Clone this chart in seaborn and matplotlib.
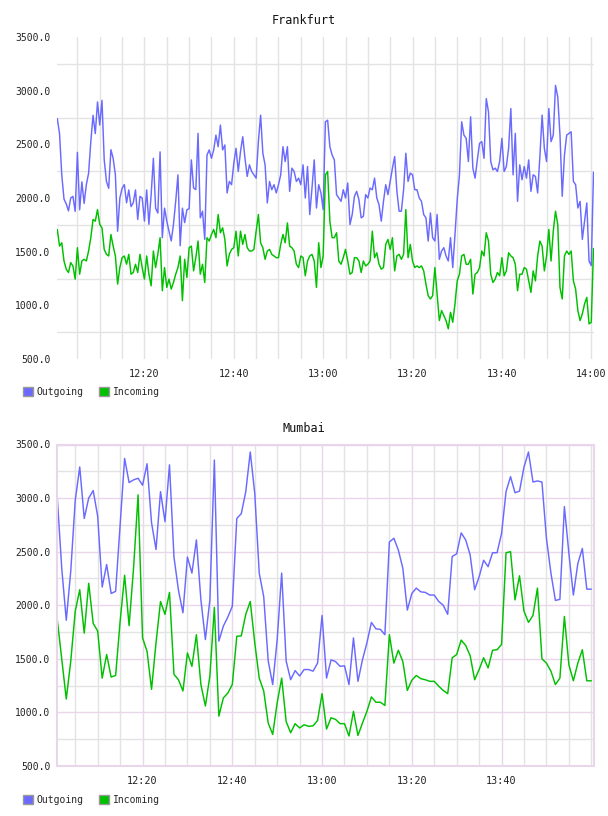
import matplotlib
matplotlib.use('Agg')
import matplotlib.pyplot as plt
from matplotlib.patches import Patch
import seaborn as sns
import numpy as np
import pandas as pd

# Frankfurt: one sample every 30 s from 12:00:30 to 14:00:30 (minutes after 12:00)
fra_minutes = np.arange(241) * 0.5 + 0.5
fra_outgoing = [
    2740, 2600, 2215, 1990, 1945, 1880, 2000, 2015, 1875, 2425,
    1890, 2150, 1950, 2125, 2230, 2525, 2770, 2600, 2895, 2680,
    2910, 2355, 2155, 2090, 2450, 2370, 2215, 1690, 2000, 2090,
    2125, 1955, 2075, 1920, 1955, 2075, 1800, 2015, 2000, 1785,
    2075, 1755, 2030, 2370, 1905, 1860, 2430, 1630, 1905, 1785,
    1690, 1600, 1755, 1970, 2215, 1555, 1905, 1770, 1890, 1900,
    2355, 2093, 2078, 2602, 1815, 1877, 1614, 2401, 2448, 2370,
    2448, 2586, 2478, 2679, 2448, 2494, 2047, 2154, 2124, 2324,
    2463, 2247, 2432, 2571, 2370, 2201, 2309, 2247, 2216, 2185,
    2525, 2772, 2417, 2309, 1954, 2154, 2077, 2124, 2047, 2124,
    2216, 2478, 2340, 2478, 2062, 2278, 2247, 2154, 2185, 2124,
    2309, 2000, 2293, 1846, 2093, 2355, 1907, 2124, 2047, 1892,
    2710, 2725, 2478, 2401, 2355, 2031, 2000, 1969, 2077, 2000,
    2139, 1753, 1846, 2016, 2062, 1985, 1815, 1830, 2031, 2000,
    2093, 2077, 2185, 2000, 1938, 1784, 1969, 2124, 2031, 2154,
    2278, 2386, 2062, 1877, 1877, 2077, 2417, 2154, 2232, 2216,
    2077, 2077, 2000, 1969, 1846, 1815, 1599, 1861, 1630, 1599,
    1846, 1429, 1506, 1537, 1460, 1413, 1630, 1352, 1660, 1985,
    2216, 2710, 2586, 2556, 2340, 2756, 2278, 2185, 2355, 2509,
    2525, 2370, 2926, 2802, 2340, 2262, 2278, 2247, 2340, 2556,
    2247, 2293, 2463, 2833, 2216, 2602, 1969, 2309, 2170, 2293,
    2185, 2355, 2062, 2216, 2201, 2047, 2386, 2772, 2463, 2340,
    2833, 2525, 2586, 3049, 2941, 2586, 2016, 2401, 2586, 2602,
    2617, 2154, 2124, 1907, 1969, 1614, 1784, 1954, 1413, 1370,
    2240,
]
fra_incoming = [
    1707, 1552, 1583, 1413, 1337, 1306, 1398, 1367, 1244, 1537,
    1290, 1413, 1429, 1413, 1506, 1630, 1800, 1784, 1892, 1753,
    1722, 1521, 1475, 1460, 1660, 1552, 1460, 1198, 1352, 1444,
    1460, 1383, 1475, 1290, 1306, 1383, 1306, 1475, 1352, 1244,
    1460, 1290, 1182, 1506, 1352, 1475, 1630, 1136, 1352, 1167,
    1244, 1151, 1213, 1290, 1352, 1460, 1043, 1429, 1259, 1537,
    1552, 1321, 1444, 1599, 1290, 1383, 1213, 1630, 1599, 1660,
    1707, 1630, 1846, 1676, 1722, 1614, 1367, 1475, 1521, 1537,
    1691, 1460, 1691, 1568, 1660, 1537, 1506, 1506, 1521, 1691,
    1846, 1583, 1537, 1429, 1506, 1521, 1475, 1460, 1444, 1444,
    1568, 1660, 1583, 1768, 1552, 1537, 1506, 1383, 1352, 1460,
    1444, 1275, 1413, 1460, 1475, 1413, 1167, 1583, 1352, 1460,
    2216, 2247, 1784, 1630, 1630, 1676, 1413, 1383, 1444, 1521,
    1413, 1290, 1306, 1444, 1444, 1413, 1306, 1413, 1367, 1383,
    1413, 1691, 1444, 1490, 1383, 1337, 1352, 1568, 1614, 1521,
    1630, 1321, 1460, 1475, 1429, 1475, 1892, 1444, 1568, 1413,
    1352, 1367, 1352, 1367, 1321, 1198, 1090, 1059, 1090, 1352,
    1105, 858, 951, 904, 858, 781, 935, 842, 1013, 1228,
    1290, 1460, 1475, 1383, 1383, 1429, 1105, 1290, 1306, 1352,
    1506, 1460, 1676, 1599, 1290, 1213, 1244, 1306, 1275, 1444,
    1275, 1321, 1490, 1460, 1444, 1383, 1136, 1290, 1290, 1352,
    1337, 1228, 1120, 1321, 1228, 1460, 1599, 1552, 1321, 1460,
    1707, 1413, 1691, 1877, 1753, 1167, 1059, 1460, 1506, 1475,
    1506, 1228, 1151, 951, 858, 920, 1013, 1074, 827, 842,
    1530,
]

# Mumbai: one sample per minute, 12:01 .. 14:00
mum_minutes = np.arange(120) + 1.0
mum_outgoing = [
    3000, 2340, 1860, 2320, 2980, 3290, 2810, 3000, 3070, 2830,
    2170, 2380, 2110, 2130, 2750, 3370, 3145, 3170, 3185, 3120,
    3320, 2770, 2520, 3060, 2780, 3310, 2450, 2140, 1930, 2450,
    2300, 2610, 2050, 1680, 2050, 3355, 1665, 1805, 1890, 1990,
    2810, 2855, 3060, 3430, 3045, 2300, 2080, 1480, 1260, 1680,
    2300, 1480, 1305, 1390, 1340, 1400, 1400, 1385, 1460, 1905,
    1320, 1490, 1475, 1430, 1435, 1260, 1695, 1290, 1490, 1650,
    1840, 1780, 1775, 1725, 2590, 2625, 2515, 2345, 1955, 2110,
    2160, 2125, 2120, 2095, 2095, 2035, 2000, 1915, 2455, 2480,
    2675, 2610, 2470, 2145, 2265, 2420, 2360, 2490, 2490, 2670,
    3060, 3200, 3050, 3065, 3290, 3430, 3150, 3160, 3150, 2625,
    2300, 2045, 2055, 2920, 2485, 2095, 2390, 2530, 2150, 2150,
]
mum_incoming = [
    1865, 1495, 1125, 1480, 1945, 2145, 1740, 2205, 1830, 1760,
    1320, 1540, 1330, 1345, 1850, 2280, 1810, 2350, 3030, 1695,
    1570, 1215, 1650, 2035, 1915, 2120, 1355, 1305, 1200, 1555,
    1430, 1725, 1260, 1060, 1340, 1980, 965, 1135, 1180, 1260,
    1710, 1715, 1915, 2035, 1650, 1320, 1200, 900, 795, 1090,
    1320, 915, 810, 895, 855, 885, 870, 875, 925, 1175,
    845, 950, 935, 895, 895, 780, 1010, 785, 900, 1010,
    1145, 1095, 1095, 1065, 1725, 1460, 1580, 1475, 1205, 1300,
    1345, 1315, 1305, 1290, 1290, 1245, 1205, 1175, 1510, 1540,
    1675, 1625, 1530, 1305, 1400, 1510, 1415, 1580, 1585, 1635,
    2490, 2500, 2050, 2275, 1945, 1840, 1905, 2160, 1500, 1460,
    1385, 1260, 1320, 1895, 1445, 1295, 1460, 1585, 1295, 1295,
]

series_names = ['Outgoing', 'Incoming']
series_colors = ['#6a6aff', '#00c000']

y_ticks = [500, 1000, 1500, 2000, 2500, 3000, 3500]
y_labels = ['500.0', '1000.0', '1500.0', '2000.0', '2500.0', '3000.0', '3500.0']
y_minor = [750, 1250, 1750, 2250, 2750, 3250]
x_minor = list(range(5, 121, 5))
fra_xticks = [20, 40, 60, 80, 100, 120]
fra_xlabels = ['12:20', '12:40', '13:00', '13:20', '13:40', '14:00']
mum_xticks = [20, 40, 60, 80, 100]
mum_xlabels = ['12:20', '12:40', '13:00', '13:20', '13:40']

grey = '#e3e3e3'
pink = '#e9d6ea'
mono = 'DejaVu Sans Mono'

sns.set_style('white')
plt.rcParams['font.family'] = [mono]


def long_frame(minutes, outgoing, incoming):
    return pd.concat([
        pd.DataFrame({'minute': minutes, 'rate': outgoing, 'dir': 'Outgoing'}),
        pd.DataFrame({'minute': minutes, 'rate': incoming, 'dir': 'Incoming'}),
    ], ignore_index=True)


fig = plt.figure(figsize=(6.08, 8.16), dpi=100)
ax1 = fig.add_axes([57.3 / 608, 1 - 359 / 816, 536.2 / 608, 322 / 816])
ax2 = fig.add_axes([57.3 / 608, 1 - 766 / 816, 536.7 / 608, 321.5 / 816])

panels = [
    (ax1, long_frame(fra_minutes, fra_outgoing, fra_incoming), (0.5, 120.5),
     fra_xticks, fra_xlabels, grey, False),
    (ax2, long_frame(mum_minutes, mum_outgoing, mum_incoming), (1.0, 120.6),
     mum_xticks, mum_xlabels, pink, True),
]

for ax, df, xlim, xt, xl, major_col, border in panels:
    ax.set_axisbelow(True)
    sns.lineplot(data=df, x='minute', y='rate', hue='dir', hue_order=series_names,
                 palette=series_colors, linewidth=1.05, legend=False, ax=ax,
                 estimator=None)
    ax.set_xlim(*xlim)
    ax.set_ylim(500, 3500)
    ax.set_yticks(y_ticks)
    ax.set_yticklabels(y_labels)
    ax.set_yticks(y_minor, minor=True)
    ax.set_xticks(xt)
    ax.set_xticklabels(xl)
    ax.set_xticks(x_minor, minor=True)
    ax.tick_params(which='both', length=0)
    ax.tick_params(axis='y', pad=5, labelsize=7, labelcolor='#222222')
    ax.tick_params(axis='x', pad=7, labelsize=7.3, labelcolor='#222222')
    ax.set_xlabel('')
    ax.set_ylabel('')
    ax.grid(which='minor', color=grey, linewidth=1.0)
    ax.grid(which='major', axis='x', color=major_col, linewidth=1.0)
    if border:
        ax.grid(which='major', axis='y', color=major_col, linewidth=1.0)
    for sp in ax.spines.values():
        sp.set_visible(border)
        sp.set_color(pink)
        sp.set_linewidth(1.5)

fig.text(0.5, 1 - 20 / 816, 'Frankfurt', ha='center', va='center', fontsize=8.5, color='#111111')
fig.text(0.5, 1 - 429 / 816, 'Mumbai', ha='center', va='center', fontsize=8.5, color='#111111')

handles = [Patch(facecolor=c, edgecolor='#999999', linewidth=1.0) for c in series_colors]
for yc in (392, 800):
    fig.legend(handles, series_names, loc='center left',
               bbox_to_anchor=(23 / 608, 1 - yc / 816), ncol=2, frameon=False,
               handlelength=1.0, handleheight=1.0, handletextpad=0.4,
               columnspacing=1.6, fontsize=7, borderpad=0, borderaxespad=0)

fig.savefig('out.png', dpi=100)
